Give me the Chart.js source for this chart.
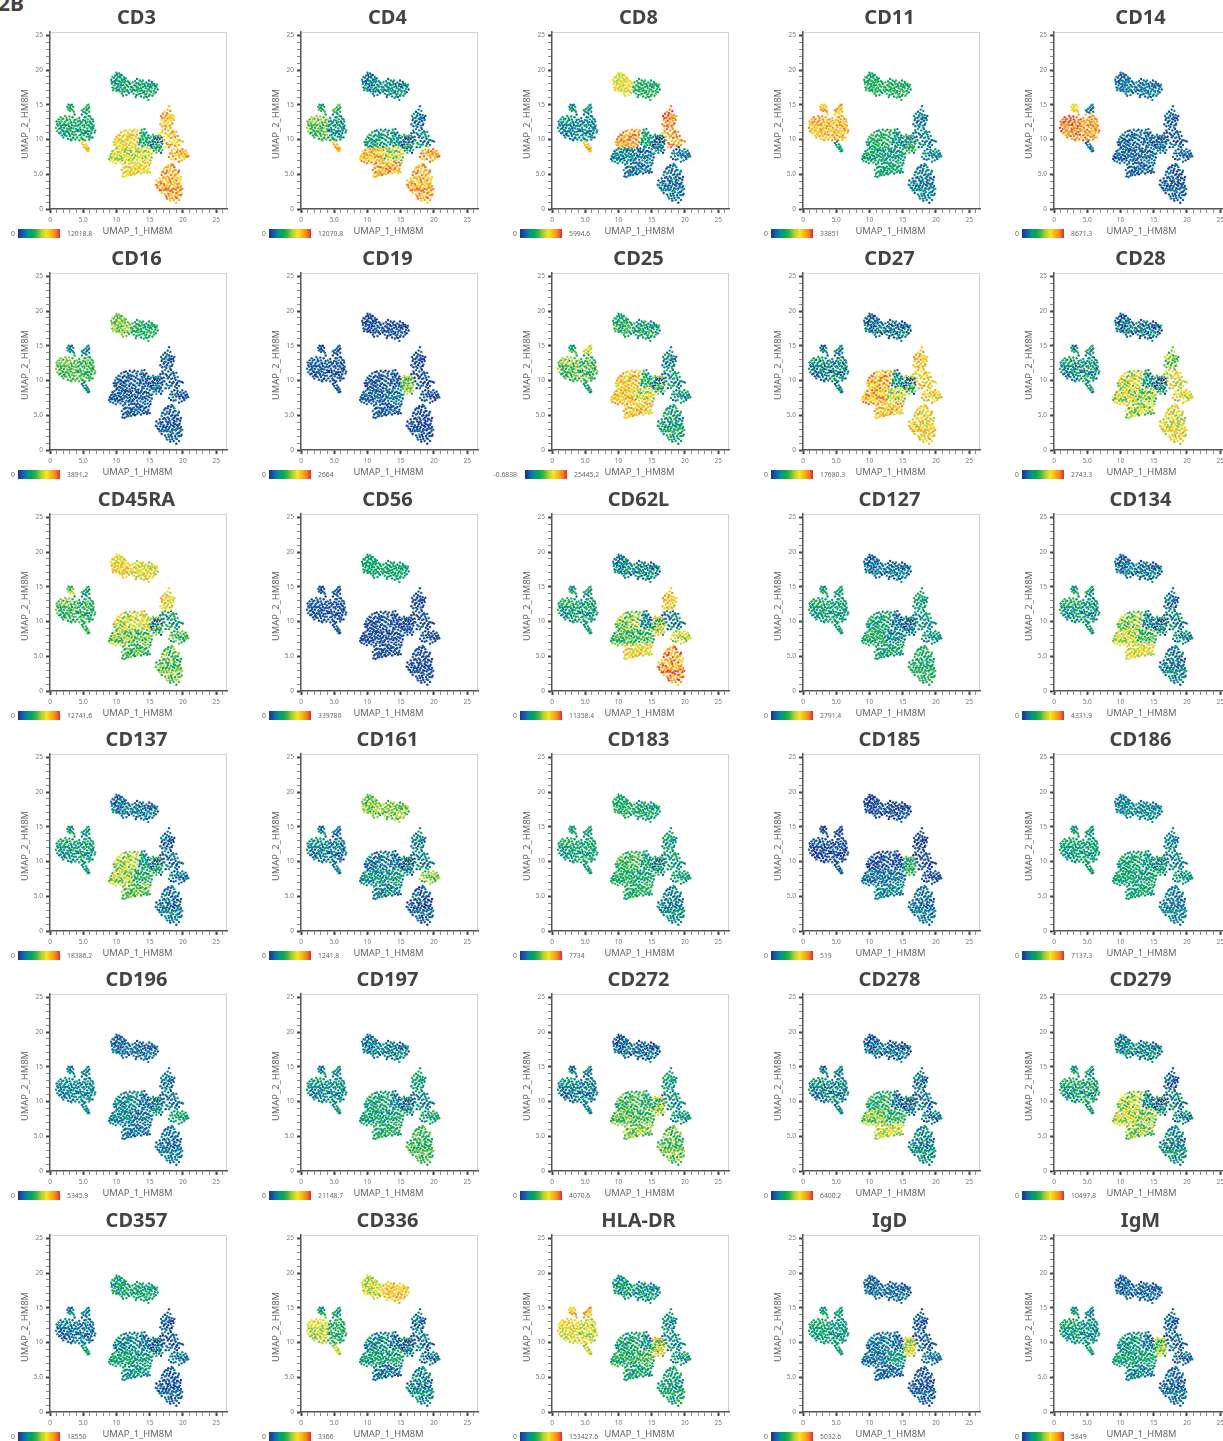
<!DOCTYPE html>
<html lang="en">
<head>
<meta charset="UTF-8">
<title>UMAP marker panels</title>
<script src="https://cdn.jsdelivr.net/npm/chart.js"></script>
<style>
    html, body { margin: 0; background: #fff; overflow: hidden; }
    body { position: relative; width: 1223px; height: 1441px; font-family: "Noto Sans", sans-serif; }
    .panel { position: absolute; width: 251px; height: 241px; }
    .panel canvas { position: absolute; left: 0; top: 0; }
    .frame { position: absolute; left: 50px; top: 32px; width: 177px; height: 177px; box-sizing: border-box;
             border-top: 1px solid #d4d4d4; border-right: 1px solid #cfcfcf; }
    .name { position: absolute; left: 0; top: 3px; width: 273px; text-align: center; font-size: 20px; line-height: 28px;
            font-weight: 700; color: #444; }
    .bar { position: absolute; top: 229px; height: 9px; }
    .lim { position: absolute; top: 228px; font-size: 6.8px; line-height: 11px; color: #666; white-space: nowrap; }
    .tag { position: absolute; left: -2px; top: -11px; font-size: 21px; line-height: 28px; font-weight: 700; color: #444; }
</style>
</head>
<body>
<div class="tag">2B</div>
<script>
// panels, left to right then top to bottom
const markers = ['CD3','CD4','CD8','CD11','CD14','CD16','CD19','CD25','CD27','CD28','CD45RA','CD56','CD62L','CD127','CD134',
    'CD137','CD161','CD183','CD185','CD186','CD196','CD197','CD272','CD278','CD279','CD357','CD336','HLA-DR','IgD','IgM'];
const minLabels = ['0','0','0','0','0','0','0','-0.6838','0','0','0','0','0','0','0','0','0','0','0','0','0','0','0','0','0','0','0','0','0','0'];
const maxLabels = ['12018.8','12070.8','5994.6','33851','8671.3','3891.2','2664','25445.2','17680.3','2743.3',
    '12741.6','339780','11358.4','2791.4','4331.9','18386.2','1241.8','7734','519','7137.3',
    '5345.9','21148.7','4070.6','6400.2','10497.8','18550','3366','153427.6','5032.6','5849'];
const tickValues = [0, 5, 10, 15, 20, 25];
const tickTexts = ['0', '5.0', '10', '15', '20', '25'];

// UMAP positions, grouped by the part of the map they sit in
const topLeft = [[9.2,18.6],[9.3,18.0],[9.4,17.5],[9.5,18.3],[9.6,18.9],[9.7,17.8],[9.8,19.2],[9.9,17.3],[9.9,18.5],[10.0,19.6],[10.1,18.0],[10.2,19.0],[10.2,17.1],[10.3,17.7],[10.4,18.4],[10.4,19.5],[10.5,16.9],[10.6,18.9],[10.6,17.5],[10.7,18.1],[10.8,19.3],[10.8,16.6],[10.9,17.2],[11.0,18.6],[11.0,17.8],[11.1,19.0],[11.2,16.9],[11.2,18.2],[11.3,17.5],[11.4,18.8],[11.5,16.4],[11.5,17.9],[11.6,17.1],[11.7,18.4],[11.8,17.6],[11.9,16.7],[12.0,18.0],[9.5,17.1],[10.0,18.7],[10.5,18.3],[10.1,17.5],[10.9,18.3],[11.3,18.4],[9.4,19.0],[10.6,19.2],[11.0,16.3],[12.1,17.2],[9.7,18.4],[10.3,18.0],[10.7,17.8],[11.4,17.2],
    [9.3,18.3],[9.6,17.4],[9.8,18.1],[10.0,17.0],[10.2,18.5],[10.4,17.2],[10.5,19.0],[10.8,18.6],[11.1,17.4],[11.2,18.7],[11.6,17.7],[11.7,16.9],[11.9,18.2],[10.9,16.9],[10.1,19.3]];
const topRight = [[12.2,17.6],[12.3,16.9],[12.4,18.2],[12.5,17.2],[12.6,16.6],[12.7,17.8],[12.8,18.4],[12.9,17.0],[13.0,16.4],[13.0,17.6],[13.1,18.7],[13.2,16.9],[13.3,18.1],[13.4,17.3],[13.5,16.6],[13.5,18.5],[13.6,17.8],[13.7,16.2],[13.8,17.1],[13.8,18.3],[13.9,16.7],[14.0,17.6],[14.1,16.0],[14.2,18.0],[14.2,17.0],[14.3,16.5],[14.4,17.4],[14.5,18.2],[14.6,16.1],[14.6,16.9],[14.7,17.7],[14.8,15.7],[14.9,18.5],[14.9,17.2],[15.0,16.5],[15.1,17.9],[15.2,16.9],[15.3,18.3],[15.3,17.4],[15.4,16.3],[15.5,17.8],[15.6,17.0],[15.7,18.0],[15.8,17.3],[15.9,16.8],[16.0,17.6],[16.2,17.2],[16.1,17.9],[13.2,17.5],[14.0,18.5],[12.9,16.1],[13.6,17.0],[14.5,16.6],[15.0,17.6],
    [12.4,17.5],[12.7,17.1],[12.9,17.7],[13.1,17.2],[13.3,16.5],[13.4,17.9],[13.7,17.4],[13.9,18.0],[14.1,16.8],[14.3,17.7],[14.4,16.2],[14.7,17.2],[14.9,16.3],[15.1,16.9],[15.2,17.6],[15.4,18.1],[15.6,16.6],[15.8,17.7],[13.0,18.1],[14.8,18.0]];
const leftMain = [[0.9,11.7],[1.0,12.6],[1.1,11.2],[1.2,12.0],[1.3,12.9],[1.3,11.5],[1.4,10.9],[1.5,12.3],[1.6,11.0],[1.6,13.2],[1.7,11.8],[1.7,12.6],[1.8,10.6],[1.9,12.1],[1.9,11.3],[2.0,13.0],[2.0,10.3],[2.1,11.7],[2.2,12.5],[2.2,10.9],[2.3,13.4],[2.4,11.2],[2.4,12.1],[2.5,10.5],[2.6,12.8],[2.6,11.6],[2.7,10.1],[2.8,12.3],[2.8,11.0],[2.9,13.3],[2.9,11.9],[3.0,10.5],[3.1,12.6],[3.1,11.3],[3.2,9.9],[3.3,12.1],[3.3,10.8],[3.4,13.2],[3.5,11.6],[3.5,10.3],[3.6,12.5],[3.7,11.1],[3.7,13.6],[3.8,10.0],[3.8,12.0],[3.9,10.7],[3.9,11.5],[4.0,12.9],[1.5,11.6],[2.3,12.0],[2.7,11.4],[3.2,11.7],[3.6,10.7],[2.1,10.8],[2.5,13.1],
    [1.1,12.2],[1.4,12.5],[1.6,12.0],[1.8,11.4],[1.8,12.9],[2.0,11.2],[2.1,12.2],[2.3,10.6],[2.4,12.7],[2.6,11.1],[2.7,12.1],[2.9,10.8],[3.0,11.6],[3.0,12.9],[3.2,12.4],[3.4,11.1],[3.4,10.2],[3.6,11.9],[3.7,12.8],[3.9,12.3],[4.0,11.2],[3.1,10.0]];
const leftRight = [[4.1,11.9],[4.1,10.3],[4.2,12.6],[4.3,11.2],[4.4,9.9],[4.4,13.1],[4.5,11.7],[4.6,10.7],[4.6,12.3],[4.7,11.1],[4.8,13.6],[4.8,10.1],[4.9,12.0],[5.0,11.4],[5.0,12.8],[5.1,10.6],[5.2,13.2],[5.2,11.8],[5.3,9.9],[5.4,12.4],[5.4,11.0],[5.5,13.7],[5.5,10.4],[5.6,11.6],[5.7,12.9],[5.7,10.8],[5.8,12.1],[5.8,13.4],[5.9,11.2],[5.9,10.0],[6.0,12.6],[6.0,10.6],[6.1,11.7],[6.2,13.0],[6.2,10.9],[6.3,12.2],[6.3,11.3],[6.4,10.3],[6.5,12.6],[6.5,11.6],[6.6,12.0],[6.7,11.0],[6.8,11.3],[4.3,12.1],[4.9,10.9],[5.5,12.1],[6.1,12.4],[5.3,11.2],
    [4.2,11.4],[4.4,10.6],[4.5,12.7],[4.7,10.3],[4.8,12.5],[5.0,10.0],[5.1,12.1],[5.2,10.9],[5.3,12.7],[5.6,11.2],[5.6,12.5],[5.8,10.4],[5.9,11.9],[6.0,13.3],[6.1,10.3],[6.2,11.5],[6.4,11.8],[6.4,12.9],[4.6,11.4],[5.4,13.2]];
const leftNubA = [[2.6,14.7],[2.7,14.3],[2.8,15.0],[2.9,14.5],[3.0,14.1],[3.1,14.9],[3.2,14.4],[3.3,15.0],[3.4,14.2],[3.5,14.7],[3.6,14.0],[3.0,14.6]];
const leftNubB = [[5.0,14.0],[5.1,14.4],[5.3,13.9],[5.4,14.6],[5.5,14.2],[5.6,14.9],[5.7,14.4],[5.8,15.0],[5.9,14.6],[5.9,14.0],[4.8,14.2]];
const leftTail = [[4.8,9.5],[5.0,9.2],[5.1,9.7],[5.2,8.9],[5.4,9.3],[5.5,8.6],[5.6,9.0],[5.7,8.3],[5.8,8.7],[5.9,8.4],[5.4,8.8]];
const midUpper = [[9.6,9.6],[9.8,10.0],[9.9,9.2],[10.0,10.4],[10.1,8.9],[10.2,9.7],[10.3,10.7],[10.4,9.1],[10.5,10.1],[10.6,9.5],[10.7,11.0],[10.8,8.9],[10.9,10.4],[11.0,9.8],[11.1,11.2],[11.1,9.2],[11.2,10.7],[11.3,10.0],[11.4,11.3],[11.5,9.4],[11.5,10.5],[11.6,8.9],[11.7,11.0],[11.8,9.9],[11.9,10.4],[11.9,9.2],[12.0,11.4],[12.1,10.8],[12.2,9.6],[12.3,10.2],[12.4,11.2],[12.4,8.9],[12.5,9.4],[12.6,10.6],[12.7,11.4],[12.8,9.9],[12.9,10.4],[12.9,9.1],[13.0,11.0],[13.1,9.6],[13.2,10.2],[13.2,11.3],[10.4,9.9],[10.9,9.3],[11.4,9.9],[11.2,9.6],[11.7,10.3],[12.3,9.0],[12.6,10.0],[10.7,10.0],[9.9,9.6],[12.2,10.6],
    [9.7,9.2],[10.0,9.4],[10.2,10.2],[10.5,10.6],[10.6,9.0],[10.8,9.7],[11.0,10.5],[11.3,9.1],[11.6,10.0],[11.8,10.7],[12.0,9.5],[12.1,10.2],[12.4,10.7],[12.7,9.3],[13.1,10.7]];
const midLeft = [[8.9,7.2],[9.0,7.6],[9.1,6.9],[9.2,7.9],[9.3,7.3],[9.4,8.3],[9.5,6.8],[9.6,7.7],[9.7,8.5],[9.8,7.1],[9.8,8.0],[9.9,6.6],[10.0,8.7],[10.1,7.5],[10.2,8.2],[10.2,6.9],[10.3,7.8],[10.4,8.6],[10.5,7.2],[10.6,8.1],[10.6,6.7],[10.7,7.6],[10.8,8.5],[10.9,7.0],[11.0,7.9],[11.0,8.7],[11.1,7.4],[11.2,8.2],[11.3,6.8],[11.4,7.7],[11.4,8.6],[11.5,7.1],[11.6,8.0],[11.7,7.5],[11.8,8.4],[11.8,6.9],[11.9,7.9],[12.0,8.7],[12.1,7.3],[12.2,8.2],[12.2,6.7],[12.3,7.7],[12.4,8.5],[12.5,7.1],[9.4,7.5],[10.0,7.3],[10.5,7.7],[11.1,8.6],[11.9,7.1],[12.4,7.9],
    [9.2,7.4],[9.5,8.0],[9.7,7.3],[9.9,7.8],[10.3,7.1],[10.4,8.2],[10.7,8.2],[10.8,7.3],[11.2,7.7],[11.3,8.4],[11.5,7.6],[11.6,8.5],[12.0,7.6],[12.1,8.4],[12.3,7.0]];
const midLower = [[10.8,5.6],[10.9,4.7],[11.0,6.4],[11.0,5.1],[11.1,5.9],[11.2,4.6],[11.3,6.6],[11.4,5.4],[11.5,4.8],[11.6,6.1],[11.7,5.6],[11.8,4.9],[11.9,6.5],[12.0,5.2],[12.1,6.0],[12.2,4.9],[12.3,5.6],[12.4,6.6],[12.5,5.1],[12.6,6.1],[12.7,5.5],[12.8,5.0],[12.9,6.4],[13.0,5.8],[13.1,5.2],[13.2,6.7],[13.3,6.1],[13.4,5.4],[13.5,6.5],[13.6,5.8],[13.7,5.1],[13.8,6.3],[13.9,5.6],[14.0,6.8],[14.1,5.3],[14.2,6.0],[14.3,6.6],[14.4,5.5],[14.5,6.2],[14.6,5.2],[14.7,6.7],[14.8,5.8],[14.9,6.3],[15.0,5.3],[15.1,6.6],[11.4,6.1],[12.2,5.8],[13.0,6.5],[12.7,6.7],[13.4,5.9],[11.8,5.4],
    [11.2,5.3],[11.3,6.0],[11.6,5.1],[11.9,6.0],[12.1,5.4],[12.4,5.9],[12.6,5.2],[12.8,5.8],[13.1,6.2],[13.2,5.5],[13.6,6.2],[13.9,6.3],[14.1,5.8],[14.4,6.1],[14.7,5.5]];
const midCentre = [[12.6,7.3],[12.7,8.0],[12.8,8.8],[12.9,7.5],[13.0,8.3],[13.1,7.1],[13.2,7.9],[13.3,8.7],[13.4,7.4],[13.5,8.2],[13.6,7.0],[13.7,7.8],[13.8,8.6],[13.9,7.3],[14.0,8.1],[14.1,8.9],[14.2,7.6],[14.3,7.0],[14.4,8.4],[14.5,7.8],[14.6,8.8],[14.7,7.2],[14.8,8.2],[14.9,7.6],[15.0,8.6],[15.1,7.0],[15.2,7.9],[15.3,7.4],[15.4,8.0],[13.2,8.4],[13.9,8.9],[14.4,7.4],[12.9,8.6],[15.0,8.0],
    [12.8,7.7],[13.1,7.6],[13.3,8.2],[13.6,7.5],[13.7,8.4],[14.0,7.6],[14.2,8.3],[14.6,8.2],[14.8,7.7]];
const midTop = [[13.4,9.3],[13.5,10.1],[13.6,10.9],[13.7,9.6],[13.8,10.5],[13.8,11.4],[13.9,9.1],[14.0,10.0],[14.0,11.0],[14.1,9.5],[14.2,10.5],[14.2,11.5],[14.3,9.2],[14.4,10.2],[14.5,9.6],[14.5,11.0],[14.6,10.0],[14.7,9.2],[14.8,10.6],[14.9,9.7],[15.0,10.2],[15.0,9.1],[13.6,9.9],[14.3,10.8],[14.7,10.3],
    [13.5,9.6],[13.9,10.2],[14.1,10.8],[14.4,9.8],[14.8,9.5],[13.7,11.0]];
const hotSpot = [[15.1,9.6],[15.2,10.4],[15.3,8.9],[15.4,9.9],[15.5,10.7],[15.5,9.3],[15.6,8.4],[15.7,10.1],[15.7,9.0],[15.8,9.6],[15.9,10.5],[15.9,8.7],[16.0,9.3],[16.0,8.1],[16.1,10.0],[16.2,8.9],[16.2,9.6],[16.3,10.6],[16.4,8.4],[16.4,9.2],[16.5,10.1],[16.5,8.7],[16.6,9.6],[16.7,8.1],[16.7,9.0],[16.8,10.3],[16.9,8.5],[16.9,9.4],[17.0,9.9],[15.5,9.7],[16.1,9.0],[16.3,9.8],[15.8,10.2],[15.4,8.8],
    [15.2,9.2],[15.6,8.8],[15.6,10.4],[16.0,8.5],[16.2,10.3],[16.6,8.9],[16.6,10.5],[16.8,9.7]];
const rightLower = [[15.9,3.5],[16.0,4.1],[16.2,3.1],[16.3,3.8],[16.5,2.7],[16.5,4.4],[16.6,3.4],[16.8,4.9],[16.8,2.3],[16.9,3.0],[16.9,4.0],[17.0,5.4],[17.1,2.7],[17.1,3.6],[17.2,4.6],[17.3,2.1],[17.3,5.1],[17.4,3.2],[17.4,6.0],[17.5,4.1],[17.5,1.8],[17.6,2.7],[17.6,5.5],[17.7,3.7],[17.7,4.7],[17.8,2.2],[17.8,6.3],[17.9,3.1],[17.9,5.2],[18.0,4.2],[18.0,1.5],[18.1,2.6],[18.1,5.8],[18.2,3.6],[18.2,4.9],[18.3,1.9],[18.3,6.5],[18.4,3.0],[18.4,4.4],[18.5,5.4],[18.5,2.4],[18.6,3.9],[18.6,1.3],[18.7,6.0],[18.7,3.3],[18.8,4.8],[18.8,2.0],[18.9,2.8],[18.9,5.6],[19.0,4.1],[19.0,0.9],[19.1,3.6],[19.1,1.6],[19.2,5.0],[19.2,2.4],[19.3,4.4],[19.3,3.1],[19.4,1.3],[19.4,5.5],[19.5,3.8],[19.5,2.0],[19.6,2.7],[19.7,4.6],[19.7,3.3],[19.8,2.2],[19.9,2.9],[18.0,3.3],[17.5,3.0],[18.5,3.5],[19.0,3.0],[17.2,3.4],[18.2,2.2],[17.9,4.5],[18.7,4.2],[16.7,3.7],[19.3,2.0],
    [16.1,3.4],[16.4,3.0],[16.6,4.0],[16.7,2.7],[17.0,3.3],[17.0,4.5],[17.2,5.8],[17.3,2.8],[17.4,4.4],[17.5,5.2],[17.6,3.4],[17.7,6.0],[17.8,2.8],[17.8,4.0],[17.9,1.9],[18.0,5.5],[18.1,3.9],[18.2,6.2],[18.3,2.7],[18.4,5.0],[18.4,1.6],[18.6,2.9],[18.6,4.6],[18.7,5.6],[18.8,3.7],[18.9,1.7],[18.9,5.0],[19.0,2.3],[19.1,4.5],[19.2,3.3],[19.3,5.3],[19.4,2.5],[19.4,3.6],[19.6,4.2],[19.7,2.0],[16.9,5.3],[17.6,1.5],[18.1,1.2],[19.6,3.1],[18.5,6.3]];
const rightUpper = [[16.6,10.9],[16.9,11.3],[17.1,10.4],[17.3,11.5],[17.4,10.9],[17.5,9.5],[17.7,10.3],[17.8,11.3],[17.9,8.9],[18.0,9.8],[18.1,10.8],[18.2,11.5],[18.3,9.3],[18.4,10.3],[18.5,11.2],[18.6,9.8],[18.7,10.7],[18.8,9.1],[18.9,10.1],[19.0,11.1],[19.1,9.6],[19.2,10.5],[19.4,9.2],[19.5,9.9],[19.8,9.8],[20.0,9.7],[18.1,9.2],[17.6,10.7],
    [17.2,9.9],[17.4,8.9],[17.7,9.3],[17.9,10.5],[18.2,10.2],[18.4,9.6],[18.6,11.0],[18.8,10.4],[19.0,9.4],[19.3,9.9],[17.0,11.0],[18.3,11.0]];
const rightTop = [[16.6,12.2],[16.7,13.4],[16.8,12.8],[16.9,11.9],[17.0,13.7],[17.1,12.4],[17.2,13.1],[17.3,14.0],[17.4,12.7],[17.5,11.8],[17.5,13.5],[17.6,12.2],[17.7,14.3],[17.7,13.0],[17.8,12.5],[17.9,14.8],[17.9,13.6],[18.0,12.0],[18.0,13.2],[18.1,14.1],[18.2,12.7],[18.3,13.5],[18.4,12.3],[18.5,13.1],[18.6,12.8],[18.7,13.4],[17.3,12.0],[18.1,11.7],
    [16.9,13.1],[17.2,12.6],[17.4,13.3],[17.6,13.8],[17.9,12.9],[18.2,13.1],[18.3,12.1]];
const rightArm = [[18.1,8.0],[18.3,8.4],[18.5,7.6],[18.7,8.6],[18.8,8.0],[18.9,7.2],[19.0,7.7],[19.2,8.5],[19.3,8.0],[19.4,6.8],[19.5,7.4],[19.6,8.3],[19.7,7.8],[19.8,7.0],[19.9,8.6],[20.0,7.6],[20.1,8.2],[20.2,7.2],[20.3,7.9],[20.4,8.4],[20.5,7.5],[20.6,8.0],[20.7,7.7],[20.8,7.6],[19.1,8.9],
    [18.4,8.0],[18.6,7.1],[19.1,8.2],[19.4,7.7],[19.8,8.0],[20.1,7.5],[20.4,7.8],[17.9,7.5],[18.2,7.2]];
const mapParts = [topLeft, topRight, leftMain, leftRight, leftNubA, leftNubB, leftTail, midUpper, midLeft, midLower, midCentre, midTop, hotSpot, rightLower, rightUpper, rightTop, rightArm];
// the hot spot is the most speckled part of the map
const partMix = [1,1,1,1,1,1,1,1,1,1,1,1,2,1,1,1,1];

// expression, one number per map part, on the 0-10 colour bar
const levelsCD3    = [3,3,3.3,3,3.5,3.5,7.5,7,6,7,6,3.3,2.8,8.3,7.8,8,8];
const levelsCD4    = [2,2.2,4.5,2.5,3.5,4,8,2.8,8,8.3,5.5,2.5,2.2,8.2,2,1.5,8.3];
const levelsCD8    = [6.5,3.5,2,2,2.5,2.5,8,8.5,2,1.5,1.5,3,1.5,1.5,8.5,9,1.5];
const levelsCD11   = [3.5,3.5,8,8,8,8,3,3.5,3,3,2.5,2.5,3,1.8,2,1.8,2];
const levelsCD14   = [1.5,1.5,9,8.5,7,1.5,1.5,1.2,1.2,1.2,1.2,1.2,1.2,1,1,1.2,1.2];
const levelsCD16   = [5,3.5,4.5,4,2,2,2,1,1,1,1,1,1,1,1,1,1];
const levelsCD19   = [0.7,0.7,1,0.8,0.8,0.8,0.8,0.8,1.2,1,1.5,0.8,5,0.7,0.7,0.7,0.7];
const levelsCD25   = [3.5,3,4.5,4,3.5,6.5,3,7.5,7.5,7.5,6,3.5,3,3,2.5,2.2,2.5];
const levelsCD27   = [1.5,1.5,2,2,2,2,2,8,8,7.5,6,2.5,3,7,7,7.5,7];
const levelsCD28   = [1.5,1.5,2.5,2.5,2.5,3,3,6,6,5.5,5,2.5,2,6.5,6.5,5,6.5];
const levelsCD45RA = [7,6.5,4,3.5,5,3,4,6,5,4,4.5,6.5,3,4.5,3,7,4];
const levelsCD56   = [3,3,0.8,0.8,0.8,0.8,0.8,0.7,0.7,0.7,0.7,0.7,0.7,0.7,0.7,0.7,0.7];
const levelsCD62L  = [2,2,3,2.8,3,3,3,5,4,7,4,2,5.5,8.5,2,7.5,6];
const levelsCD127  = [1.5,1.5,3,2.8,3,3,3,3,3.5,3,2,1.5,1.5,3.5,2.5,3,2.5];
const levelsCD134  = [1.5,1.5,3,2.5,3,3,3,5,6,6.5,4,2,2,1.8,2,1.5,2];
const levelsCD137  = [1.5,1.5,2.8,2.8,2.8,2.8,2.8,5.5,5.5,4.5,3.5,2.5,2.5,1.5,1.5,1.2,1.5];
const levelsCD161  = [5,5,2,1.5,2,1.5,2,1.5,2.5,2,2.5,1.5,1.5,1,2,2,5];
const levelsCD183  = [3.5,3,3,3,3,3,3,4,3.5,3.5,3,3,2.5,2,2.8,2.8,2.8];
const levelsCD185  = [0.6,0.6,0.6,0.6,0.6,0.6,1,0.7,1.5,2,1.5,0.7,3.5,1.5,0.6,0.5,0.6];
const levelsCD186  = [2,2,2.8,2.8,2.8,2.8,2.8,3,3,3,2.8,2.5,2.6,1.8,2,2,2.5];
const levelsCD196  = [1.3,1.3,2,2,2,2,2,2,2,1.5,1.5,1.5,2,1.5,1.5,1.5,3];
const levelsCD197  = [1.8,1.8,2.2,2.2,2.2,2.2,2.5,3,3,3.5,3,2,2,4,2,3,3];
const levelsCD272  = [1.2,1.2,1.8,1.8,1.8,1.8,2,4,4.5,5,4,3.5,5,4.5,2.5,3,2.5];
const levelsCD278  = [1.3,1.3,2,2,2,2,2,3.5,5,6,3.5,1.5,1.5,2.2,1.5,1.5,1.5];
const levelsCD279  = [2,2,3,3,3,3,3,5.5,6,5,5,2,2,2.2,2,1,2];
const levelsCD357  = [3,3,1.5,1.5,2,2,3,2,3,2.5,2.5,1.5,1.5,1,1,1,1.5];
const levelsCD336  = [6,7.5,6,3.5,3,3,6,2,3,1.5,3,1.5,1.5,2,1.5,1.5,1.5];
const levelsHLADR  = [2.8,2.5,6.5,6,7.5,8,6,3,3.5,3,4,2.5,6,3,2.5,2.5,2.5];
const levelsIgD    = [1.3,1.3,3,2.5,3,3,3,1.5,1.5,1.2,2.5,1.3,6,1,1,1,1.5];
const levelsIgM    = [1.2,1.2,2.8,2.2,2.8,2.2,3,2.5,3,2,3,1.5,5,1.3,1.2,1.2,1.2];
const markerLevels = [levelsCD3,levelsCD4,levelsCD8,levelsCD11,levelsCD14,levelsCD16,levelsCD19,levelsCD25,levelsCD27,levelsCD28,
    levelsCD45RA,levelsCD56,levelsCD62L,levelsCD127,levelsCD134,levelsCD137,levelsCD161,levelsCD183,levelsCD185,levelsCD186,
    levelsCD196,levelsCD197,levelsCD272,levelsCD278,levelsCD279,levelsCD357,levelsCD336,levelsHLADR,levelsIgD,levelsIgM];
// how mixed the colours look inside a part of the map, per panel
const markerSpread = [1,1,0.8,0.8,0.7,0.7,0.6,1.2,1.3,1.3,1.2,0.4,1.2,0.9,1.1,1,1,0.9,0.7,0.7,0.7,0.9,1.1,1.1,1.2,0.8,1,1,0.7,0.8];
const toneSteps = [0,1,-1,0,-1,1,0,1,-1];

const colStops = [[0,'#1f2f92'],[1.5,'#0f6ea8'],[2.4,'#00998a'],[3.2,'#00a651'],[4.4,'#3cb54a'],[5.5,'#a9cf38'],[6.8,'#f6e61f'],[8,'#fbb017'],[9,'#f5821f'],[10,'#e7272b']];
const colLeft = [0, 251, 502, 753, 1004];
const rowTop = [0, 241, 482, 722, 962, 1203];

function hexToRgb(h) {
    return [1, 3, 5].map(i => parseInt(h.substr(i, 2), 16));
}

function levelColor(v) {
    v = Math.max(0, Math.min(10, v));
    for (let i = 1; i < colStops.length; i++) {
        if (v <= colStops[i][0]) {
            const a = colStops[i - 1], b = colStops[i];
            const t = (v - a[0]) / (b[0] - a[0]);
            const c1 = hexToRgb(a[1]), c2 = hexToRgb(b[1]);
            return 'rgb(' + c1.map((c, k) => Math.round(c + (c2[k] - c) * t)).join(',') + ')';
        }
    }
    return colStops[colStops.length - 1][1];
}

const barGradient = 'linear-gradient(to right,' + colStops.map(s => s[1] + ' ' + s[0] * 10 + '%').join(',') + ')';

// axis names sit a little off the centre of the plot, so they are placed by hand
const axisNames = {
    id: 'axisNames',
    afterDraw(chart) {
        const ctx = chart.ctx;
        ctx.save();
        ctx.fillStyle = '#666';
        ctx.font = '9.4px "Noto Sans"';
        ctx.textAlign = 'center';
        ctx.textBaseline = 'middle';
        ctx.fillText('UMAP_1_HM8M', 137.5, 231);
        ctx.translate(25, 124);
        ctx.rotate(-Math.PI / 2);
        ctx.fillText('UMAP_2_HM8M', 0, 0);
        ctx.restore();
    }
};

function axisOptions(maxVal, fit) {
    return {
        type: 'linear',
        min: 0,
        max: maxVal,
        afterFit: fit,
        border: { color: '#555', width: 1.5 },
        grid: {
            drawOnChartArea: false,
            tickLength: 4,
            tickColor: c => tickValues.includes(c.tick.value) ? '#444' : '#888',
            tickWidth: c => tickValues.includes(c.tick.value) ? 2 : 1
        },
        ticks: {
            stepSize: 1,
            autoSkip: false,
            includeBounds: false,
            maxRotation: 0,
            padding: 3,
            color: '#777',
            font: { family: '"Noto Sans"', size: 6.5 },
            callback: v => {
                const i = tickValues.indexOf(v);
                return i >= 0 ? tickTexts[i] : '';
            }
        }
    };
}

function addPanel(idx) {
    const panel = document.createElement('div');
    panel.className = 'panel';
    panel.style.left = colLeft[idx % 5] + 'px';
    panel.style.top = rowTop[Math.floor(idx / 5)] + 'px';

    const frame = document.createElement('div');
    frame.className = 'frame';
    panel.appendChild(frame);

    const canvas = document.createElement('canvas');
    canvas.width = 251;
    canvas.height = 241;
    panel.appendChild(canvas);

    const name = document.createElement('div');
    name.className = 'name';
    name.textContent = markers[idx];
    panel.appendChild(name);

    // colour bar sits further right when the low label is long
    const shift = minLabels[idx].length > 1 ? 5 : 0;
    const low = document.createElement('div');
    low.className = 'lim';
    low.style.right = (251 - 15) + 'px';
    low.textContent = minLabels[idx];
    panel.appendChild(low);

    const bar = document.createElement('div');
    bar.className = 'bar';
    bar.style.left = (18 + shift) + 'px';
    bar.style.width = '42px';
    bar.style.background = barGradient;
    panel.appendChild(bar);

    const high = document.createElement('div');
    high.className = 'lim';
    high.style.left = (67 + shift) + 'px';
    high.textContent = maxLabels[idx];
    panel.appendChild(high);

    document.body.appendChild(panel);

    const pts = [], colors = [];
    let n = 0;
    mapParts.forEach((part, p) => {
        part.forEach(q => {
            pts.push({ x: q[0], y: q[1] });
            colors.push(levelColor(markerLevels[idx][p] + toneSteps[n % toneSteps.length] * markerSpread[idx] * partMix[p]));
            n++;
        });
    });

    new Chart(canvas.getContext('2d'), {
        type: 'scatter',
        data: { datasets: [{ data: pts, backgroundColor: colors, pointRadius: 1.2, borderWidth: 0, pointHoverRadius: 1.2 }] },
        options: {
            responsive: false,
            animation: false,
            events: [],
            layout: { padding: { top: 32, right: 23.5, left: 0, bottom: 0 } },
            plugins: { legend: { display: false }, tooltip: { enabled: false } },
            scales: {
                x: axisOptions(26.7, s => { s.height = 32; }),
                y: axisOptions(25.47, s => { s.width = 50; })
            }
        },
        plugins: [axisNames]
    });
}

markers.forEach((m, i) => addPanel(i));
</script>
</body>
</html>
